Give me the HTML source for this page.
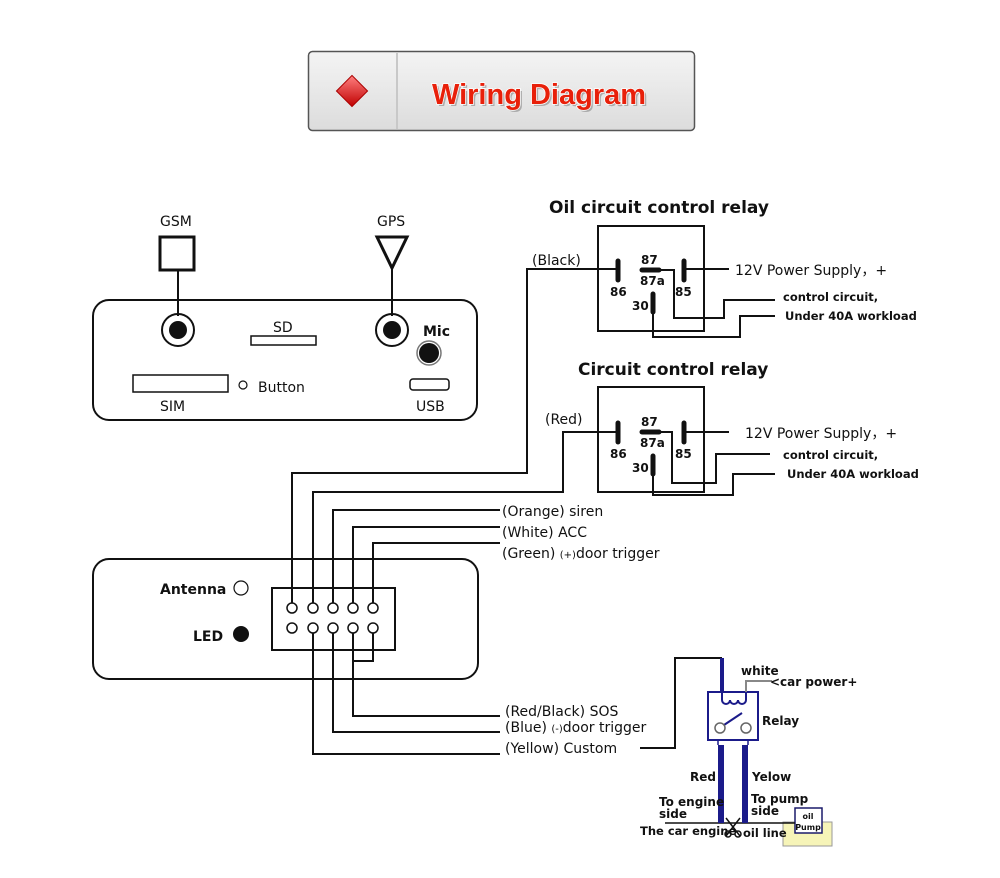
<!DOCTYPE html>
<html><head><meta charset="utf-8"><style>
html,body{margin:0;padding:0;background:#fff;width:1000px;height:878px;overflow:hidden}
svg{display:block}
text{font-family:"DejaVu Sans","Liberation Sans",sans-serif;fill:#111}
</style></head><body>
<svg width="1000" height="878" viewBox="0 0 1000 878" xmlns="http://www.w3.org/2000/svg">
<defs>
<linearGradient id="bg" x1="0" y1="0" x2="0" y2="1"><stop offset="0" stop-color="#f4f4f4"/><stop offset="1" stop-color="#dcdcdc"/></linearGradient>
<linearGradient id="rd" x1="0" y1="0" x2="1" y2="1"><stop offset="0" stop-color="#ff8080"/><stop offset="1" stop-color="#c00000"/></linearGradient>
</defs>
<!-- header -->
<rect x="308.5" y="51.5" width="386" height="79" rx="4" fill="url(#bg)" stroke="#555" stroke-width="1.5"/>
<line x1="397" y1="53" x2="397" y2="129" stroke="#c8c8c8" stroke-width="2"/>
<rect x="341" y="80" width="22" height="22" transform="rotate(45 352 91)" fill="url(#rd)" stroke="#a00" stroke-width="1"/>
<text x="541" y="106" font-size="29" text-anchor="middle" style="fill:#888;font-family:'Liberation Sans',sans-serif;font-weight:bold;opacity:0.6">Wiring Diagram</text>
<text x="539" y="104" font-size="29" text-anchor="middle" style="fill:#e8200a;font-family:'Liberation Sans',sans-serif;font-weight:bold;stroke:#fff;stroke-width:1.5;paint-order:stroke">Wiring Diagram</text>

<g fill="none" stroke="#111" stroke-width="2">
<rect x="93" y="300" width="384" height="120" rx="16"/>
<rect x="160" y="237" width="34" height="33" stroke-width="3"/>
<line x1="178" y1="270" x2="178" y2="316"/>
<polygon points="377,237 407,237 392,268" stroke-width="3"/>
<line x1="392" y1="268" x2="392" y2="316"/>
<circle cx="178" cy="330" r="16"/>
<circle cx="392" cy="330" r="16"/>
<circle cx="429" cy="353" r="12" stroke="#777" stroke-width="1.5"/>
<rect x="251" y="336" width="65" height="9" stroke-width="1.5"/>
<rect x="133" y="375" width="95" height="17" stroke-width="1.5"/>
<circle cx="243" cy="385" r="4" stroke-width="1.2"/>
<rect x="410" y="379" width="39" height="11" rx="3" stroke-width="1.5"/>
<rect x="93" y="559" width="385" height="120" rx="16"/>
<rect x="272" y="588" width="123" height="62"/>
<circle cx="241" cy="588" r="7" stroke-width="1.2"/>
<rect x="598" y="226" width="106" height="105"/>
<rect x="598" y="387" width="106" height="105"/>
</g>
<circle cx="178" cy="330" r="9" fill="#111"/>
<circle cx="392" cy="330" r="9" fill="#111"/>
<circle cx="429" cy="353" r="10" fill="#111"/>
<circle cx="241" cy="634" r="8" fill="#111"/>

<g fill="#fff" stroke="#111" stroke-width="1.5">
<circle cx="292" cy="608" r="5"/><circle cx="313" cy="608" r="5"/><circle cx="333" cy="608" r="5"/><circle cx="353" cy="608" r="5"/><circle cx="373" cy="608" r="5"/>
<circle cx="292" cy="628" r="5"/><circle cx="313" cy="628" r="5"/><circle cx="333" cy="628" r="5"/><circle cx="353" cy="628" r="5"/><circle cx="373" cy="628" r="5"/>
</g>
<g fill="none" stroke="#111" stroke-width="2">
<polyline points="292,603 292,473 527,473 527,269 618,269"/>
<polyline points="313,603 313,492 563,492 563,432 618,432"/>
<polyline points="333,603 333,510 500,510"/>
<polyline points="353,603 353,527 500,527"/>
<polyline points="373,603 373,543 500,543"/>
<polyline points="373,633 373,661 353,661"/>
<polyline points="353,633 353,716 500,716"/>
<polyline points="333,633 333,732 500,732"/>
<polyline points="313,633 313,754 500,754"/>
<polyline points="640,748 675,748 675,658 722,658"/>
<line x1="684" y1="269" x2="729" y2="269"/>
<polyline points="660,270 674,270 674,318 724,318 724,300 775,300"/>
<polyline points="653,313 653,337 740,337 740,316 775,316"/>
<line x1="684" y1="432" x2="729" y2="432"/>
<polyline points="660,432 672,432 672,483 716,483 716,454 770,454"/>
<polyline points="653,475 653,495 733,495 733,474 775,474"/>
</g>
<g stroke="#111" stroke-width="5" stroke-linecap="round">
<line x1="618" y1="261" x2="618" y2="280"/><line x1="642" y1="270" x2="659" y2="270"/><line x1="684" y1="261" x2="684" y2="280"/><line x1="653" y1="294" x2="653" y2="312"/>
<line x1="618" y1="423" x2="618" y2="442"/><line x1="642" y1="432" x2="659" y2="432"/><line x1="684" y1="423" x2="684" y2="442"/><line x1="653" y1="456" x2="653" y2="474"/>
</g>

<g font-size="14">
<text x="160" y="226">GSM</text><text x="377" y="226">GPS</text>
<text x="273" y="332">SD</text><text x="423" y="336" font-weight="bold">Mic</text>
<text x="258" y="392">Button</text><text x="160" y="411">SIM</text><text x="416" y="411">USB</text>
<text x="160" y="594" font-weight="bold">Antenna</text><text x="193" y="641" font-weight="bold">LED</text>
</g>
<g font-size="17" font-weight="bold">
<text x="549" y="213">Oil circuit control relay</text>
<text x="578" y="375">Circuit control relay</text>
</g>
<g font-size="14">
<text x="532" y="265">(Black)</text>
<text x="545" y="424">(Red)</text>
<text x="735" y="275">12V Power Supply，+</text>
<text x="745" y="438">12V Power Supply，+</text>
<text x="502" y="516">(Orange) siren</text>
<text x="502" y="537">(White) ACC</text>
<text x="502" y="558">(Green) <tspan font-size="10">(+)</tspan>door trigger</text>
<text x="505" y="716">(Red/Black) SOS</text>
<text x="505" y="732">(Blue) <tspan font-size="10">(-)</tspan>door trigger</text>
<text x="505" y="753">(Yellow) Custom</text>
</g>
<g font-size="12" font-weight="bold">
<text x="641" y="264">87</text><text x="640" y="285">87a</text><text x="610" y="296">86</text><text x="675" y="296">85</text><text x="632" y="310">30</text>
<text x="641" y="426">87</text><text x="640" y="447">87a</text><text x="610" y="458">86</text><text x="675" y="458">85</text><text x="632" y="472">30</text>
</g>
<g font-size="11.5" font-weight="bold">
<text x="783" y="301">control circuit,</text><text x="785" y="320">Under 40A workload</text>
<text x="783" y="459">control circuit,</text><text x="787" y="478">Under 40A workload</text>
</g>

<rect x="783" y="822" width="49" height="24" fill="#f6f4b8" stroke="#999" stroke-width="1"/>
<rect x="795" y="808" width="27" height="25" fill="#fff" stroke="#1a1a6a" stroke-width="1.5"/>
<text x="808" y="819" font-size="8" text-anchor="middle" font-weight="bold">oil</text>
<text x="808" y="830" font-size="8" text-anchor="middle" font-weight="bold">Pump</text>
<line x1="665" y1="823" x2="795" y2="823" stroke="#111" stroke-width="1.5"/>
<g fill="none" stroke="#1b1b8a" stroke-width="2">
<rect x="708" y="692" width="50" height="48"/>
<line x1="722" y1="658" x2="722" y2="692" stroke-width="4"/>
<path d="M722,692 v8 a4,4 0 0 0 8,0 a4,4 0 0 0 8,0 a4,4 0 0 0 8,0 v-8"/>
<line x1="724" y1="725" x2="742" y2="713"/>
</g>
<polyline points="746,692 746,681 772,681" fill="none" stroke="#888" stroke-width="2"/>
<circle cx="720" cy="728" r="5" fill="#fff" stroke="#666" stroke-width="1.5"/>
<circle cx="746" cy="728" r="5" fill="#fff" stroke="#666" stroke-width="1.5"/>
<g stroke="#1b1b8a" stroke-width="6"><line x1="721" y1="745" x2="721" y2="823"/><line x1="745" y1="745" x2="745" y2="823"/></g>
<g stroke="#1b1b8a" stroke-width="1.5"><line x1="718" y1="740" x2="718" y2="745"/><line x1="748" y1="740" x2="748" y2="745"/></g>
<g fill="none" stroke="#111" stroke-width="1.5">
<line x1="726" y1="818" x2="740" y2="836"/><line x1="740" y1="818" x2="726" y2="836"/>
<circle cx="728" cy="834" r="3"/><circle cx="738" cy="834" r="3"/>
</g>
<g font-size="12" font-weight="bold">
<text x="741" y="675">white</text><text x="770" y="686">&lt;car power+</text>
<text x="762" y="725">Relay</text>
<text x="690" y="781">Red</text><text x="752" y="781">Yelow</text>
<text x="659" y="806">To engine</text><text x="659" y="818">side</text>
<text x="751" y="803">To pump</text><text x="751" y="815">side</text>
<text x="640" y="835" font-size="11.5">The car engine</text><text x="743" y="837" font-size="11.5">oil line</text>
</g>
</svg>
</body></html>
